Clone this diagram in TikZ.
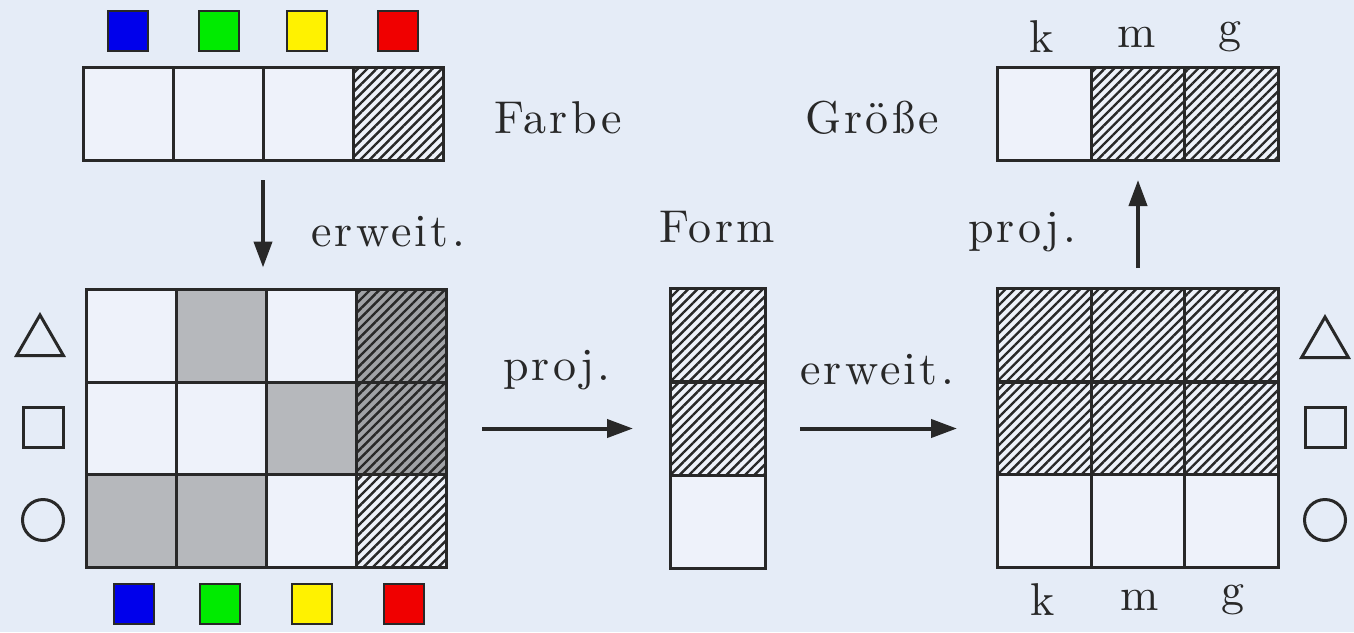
\documentclass[tikz,border=0pt]{standalone}
\usepackage{fontspec}
\setmainfont{lmroman10-regular.otf}[LetterSpace=7]
\usetikzlibrary{arrows.meta}
\usetikzlibrary{patterns.meta}
\usetikzlibrary{shapes.geometric}
\definecolor{paper}{RGB}{229,236,247}
\definecolor{blank}{RGB}{238,242,250}
\definecolor{shade}{RGB}{182,184,188}
\definecolor{deepshade}{RGB}{160,162,166}
\definecolor{ink}{RGB}{40,40,40}
\definecolor{swblue}{RGB}{0,0,235}
\definecolor{swgreen}{RGB}{0,235,0}
\definecolor{swyellow}{RGB}{255,242,0}
\definecolor{swred}{RGB}{240,0,0}
\tikzstyle{frame}=[draw=ink, line width=1.5pt, inner sep=0pt, outer sep=0pt, minimum width=45pt, minimum height=46.5pt]
\tikzstyle{cell}=[frame, fill=blank]
\tikzstyle{grey cell}=[frame, fill=shade]
\tikzstyle{hatch cell}=[frame, preaction={fill=blank}, pattern={Lines[angle=45,distance=3.3pt,line width=1.2pt]}, pattern color=ink]
\tikzstyle{dark hatch cell}=[hatch cell, preaction={fill=deepshade}]
\tikzstyle{wide}=[minimum width=47pt]
\tikzstyle{swatch}=[draw=ink, line width=1pt, minimum size=20pt, inner sep=0pt]
\tikzstyle{sign}=[draw=ink, line width=1.5pt, inner sep=0pt]
\tikzstyle{triangle sign}=[sign, regular polygon, regular polygon sides=3, minimum size=27pt]
\tikzstyle{square sign}=[sign, rectangle, minimum size=20pt]
\tikzstyle{circle sign}=[sign, circle, minimum size=20.5pt]
\tikzstyle{word}=[font=\fontsize{23}{26}\selectfont, text=ink, inner sep=0pt]
\tikzstyle{map}=[draw=ink, line width=2pt, -{Triangle[length=13pt,width=9pt]}]

\begin{document}
\begin{tikzpicture}[x=0.5pt, y=-0.5pt]
      \fill[paper] (0,0) rectangle (1354,632);
      \useasboundingbox (0,0) rectangle (1354,632);
      % Farbe
      \node[swatch, fill=swblue] (fs1) at (128,31) {};
      \node[swatch, fill=swgreen] (fs2) at (219,31) {};
      \node[swatch, fill=swyellow] (fs3) at (307,31) {};
      \node[swatch, fill=swred] (fs4) at (398,31) {};
      \node[cell] (F1) at (128,113.5) {};
      \node[cell] (F2) at (218,113.5) {};
      \node[cell] (F3) at (308,113.5) {};
      \node[hatch cell] (F4) at (398,113.5) {};
      \node[word] (farbe) at (558,118) {Farbe};
      % Farbe x Form
      \node[cell] (L-1-1) at (131,336) {};
      \node[grey cell] (L-1-2) at (221,336) {};
      \node[cell] (L-1-3) at (311,336) {};
      \node[dark hatch cell] (L-1-4) at (401,336) {};
      \node[cell] (L-2-1) at (131,428.5) {};
      \node[cell] (L-2-2) at (221,428.5) {};
      \node[grey cell] (L-2-3) at (311,428.5) {};
      \node[dark hatch cell] (L-2-4) at (401,428.5) {};
      \node[grey cell] (L-3-1) at (131,521) {};
      \node[grey cell] (L-3-2) at (221,521) {};
      \node[cell] (L-3-3) at (311,521) {};
      \node[hatch cell] (L-3-4) at (401,521) {};
      \node[triangle sign] (ltri) at (40,342) {};
      \node[square sign] (lsq) at (43,427) {};
      \node[circle sign] (lcirc) at (43,520) {};
      \node[swatch, fill=swblue] (ls1) at (134,604) {};
      \node[swatch, fill=swgreen] (ls2) at (220,604) {};
      \node[swatch, fill=swyellow] (ls3) at (312,604) {};
      \node[swatch, fill=swred] (ls4) at (404,604) {};
      % Form
      \node[word] (form) at (717,227) {Form};
      \node[hatch cell, minimum width=47.5pt] (M1) at (717.5,334.5) {};
      \node[hatch cell, minimum width=47.5pt] (M2) at (717.5,428.5) {};
      \node[cell, minimum width=47.5pt] (M3) at (717.5,521.5) {};
      % Form x Groesse
      \node[hatch cell, wide] (R-1-1) at (1044,334.5) {};
      \node[hatch cell, wide] (R-1-2) at (1138,334.5) {};
      \node[hatch cell, wide] (R-1-3) at (1231.5,334.5) {};
      \node[hatch cell, wide] (R-2-1) at (1044,428.5) {};
      \node[hatch cell, wide] (R-2-2) at (1138,428.5) {};
      \node[hatch cell, wide] (R-2-3) at (1231.5,428.5) {};
      \node[cell, wide] (R-3-1) at (1044,521) {};
      \node[cell, wide] (R-3-2) at (1138,521) {};
      \node[cell, wide] (R-3-3) at (1231.5,521) {};
      \node[triangle sign] (rtri) at (1325,344) {};
      \node[square sign] (rsq) at (1325,427) {};
      \node[circle sign] (rcirc) at (1325,520) {};
      \node[word] (rk) at (1043,600) {k};
      \node[word] (rm) at (1140,600) {m};
      \node[word] (rg) at (1233,600) {g};
      % Groesse
      \node[cell, wide] (G1) at (1044,113.5) {};
      \node[hatch cell, wide] (G2) at (1138,113.5) {};
      \node[hatch cell, wide] (G3) at (1231.5,113.5) {};
      \node[word] (gk) at (1042,37) {k};
      \node[word] (gm) at (1137,37) {m};
      \node[word] (gg) at (1230,37) {g};
      \node[word] (groesse) at (872,118) {Größe};
      % maps
      \draw[map, shorten <=10pt, shorten >=11pt] (F2.south east) -- (F2.south east |- L-1-2.north);
      \node[word] (erw1) at (388,232) {erweit.};
      \draw[map, shorten <=18pt, shorten >=18.5pt] (L-2-4.east) -- (M2.west);
      \node[word] (proj1) at (557,370) {proj.};
      \draw[map, shorten <=17.5pt, shorten >=20pt] (M2.east) -- (R-2-1.west);
      \node[word] (erw2) at (877,370) {erweit.};
      \draw[map, shorten <=10pt, shorten >=10pt] (R-1-2.north) -- (G2.south);
      \node[word] (proj2) at (1022,232) {proj.};
    \end{tikzpicture}
\end{document}
